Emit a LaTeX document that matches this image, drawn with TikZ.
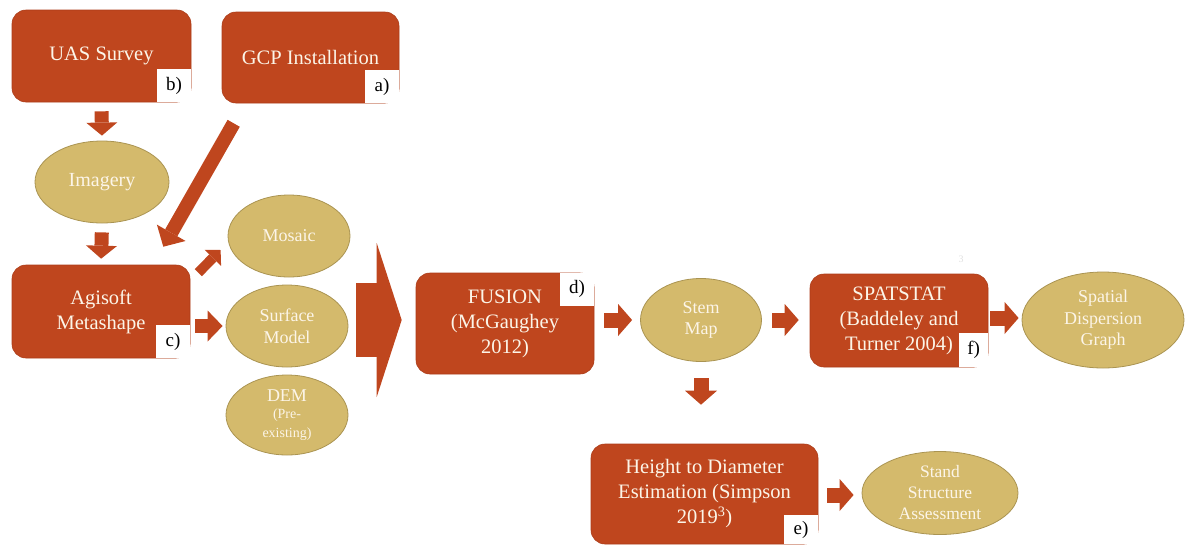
\documentclass[tikz,border=0pt]{standalone}
\usepackage{fontspec}
\setmainfont{Liberation Serif}
\usetikzlibrary{arrows.meta,shapes.geometric,calc}
\definecolor{boxred}{RGB}{191,70,30}
\definecolor{boxedge}{RGB}{172,60,25}
\definecolor{tanfill}{RGB}{212,186,108}
\definecolor{tanedge}{RGB}{170,148,82}
\definecolor{cream}{RGB}{252,245,232}
\begin{document}
\begin{tikzpicture}[x=1pt,y=-1pt,
 redbox/.style={draw=boxedge, line width=0.6pt, fill=boxred, rounded corners=14pt, text=cream, align=center, inner sep=0pt, font=\fontsize{20.5}{25}\selectfont},
 oval/.style={ellipse, draw=tanedge, line width=0.8pt, fill=tanfill, text=cream, align=center, inner sep=0pt, font=\fontsize{18}{21.5}\selectfont},
 lbl/.style={fill=white, text=black, minimum width=34pt, minimum height=33pt, inner sep=0pt, font=\fontsize{19}{20}\selectfont},
 blk/.style args={#1/#2/#3}{draw=boxred, line width=#1, -{Triangle[width=#2,length=#3,line width=0pt]}},
]
\useasboundingbox (0,0) rectangle (1186,544);

% boxes
\node[redbox, minimum width=179pt, minimum height=92pt] (uas) at (101.5,56) {UAS Survey};
\node[redbox, minimum width=177pt, minimum height=91pt] (gcp) at (310.5,57.5) {GCP Installation};
\node[redbox, minimum width=178pt, minimum height=93pt] (agi) at (101,311.5) {Agisoft\\Metashape};
\node[redbox, minimum width=178pt, minimum height=101pt] (fus) at (505,323.5) {FUSION\\(McGaughey\\2012)};
\node[redbox, minimum width=178pt, minimum height=93pt] (spa) at (899,320.5) {SPATSTAT\\(Baddeley and\\Turner 2004)};
\node[redbox, minimum width=227pt, minimum height=100pt] (hgt) at (704.5,494) {Height to Diameter\\Estimation (Simpson\\2019\textsuperscript{3})};

% labels
\node[lbl, anchor=south east] (lb) at (uas.south east) {b)};
\node[lbl, anchor=south east] (la) at (gcp.south east) {a)};
\node[lbl, anchor=south east] (lc) at (agi.south east) {c)};
\node[lbl, anchor=north east] (ld) at (fus.north east) {d)};
\node[lbl, anchor=south east, minimum width=29pt, minimum height=34pt] (lf) at (spa.south east) {f)};
\node[lbl, anchor=south east, minimum height=29pt] (le) at (hgt.south east) {e)};

% ellipses
\node[oval, minimum width=134pt, minimum height=82pt, font=\fontsize{20}{24}\selectfont] (img) at (102,182) {Imagery};
\node[oval, minimum width=122pt, minimum height=82pt] (mos) at (289,236) {Mosaic};
\node[oval, minimum width=122pt, minimum height=82pt] (srf) at (287,326) {Surface\\Model};
\node[oval, minimum width=122pt, minimum height=80pt] (dem) at (287,415) {DEM\\[-4pt]{\fontsize{14}{15}\selectfont (Pre-}\\[-3pt]{\fontsize{14}{15}\selectfont existing)}};
\node[oval, minimum width=121pt, minimum height=83pt] (stm) at (701,320) {Stem\\Map};
\node[oval, minimum width=162pt, minimum height=96pt] (sdg) at (1103,320) {Spatial\\Dispersion\\Graph};
\node[oval, minimum width=156pt, minimum height=83pt, font=\fontsize{17.5}{21}\selectfont] (ssa) at (940,493) {Stand\\Structure\\Assessment};

\node[text=black!12, font=\fontsize{10}{10}\selectfont] (f3) at (961,259) {3};

% arrows
\draw[blk=14pt/31pt/13pt, shorten <=9pt, shorten >=5pt] (uas.south) -- (img.north);
\draw[blk=14pt/31pt/13pt, shorten <=9pt, shorten >=6pt] (img.south) -- (agi.north);
\draw[blk=14pt/33pt/16pt] ($(gcp.south west)+(12,20)$) -- ($(agi.north east)+(-27,-18)$);
\draw[blk=10pt/23pt/11pt] ($(agi.north east)+(8,8)$) -- ($(mos.west)+(-7,14)$);
\draw[blk=14pt/31pt/15pt, shorten <=5pt, shorten >=3pt] (agi.east |- srf.west) -- (srf.west);
\draw[blk=74pt/154pt/25pt] ($(srf.east)+(8,-6)$) -- ($(fus.west)+(-14,-3.5)$);
\draw[blk=15pt/32pt/14pt] ($(fus.east)+(10,-3.5)$) -- ($(stm.west)+(-8,0)$);
\draw[blk=15pt/32pt/14pt] ($(stm.east)+(10.5,0)$) -- ($(spa.west)+(-11,-0.5)$);
\draw[blk=15pt/32pt/14pt] ($(spa.east)+(2,-2.5)$) -- ($(sdg.west)+(-3,-2)$);
\draw[blk=15pt/32pt/14pt, shorten <=16.5pt, shorten >=39pt] (stm.south) -- (stm.south |- hgt.north);
\draw[blk=15pt/32pt/14pt] ($(hgt.east)+(9,1)$) -- ($(ssa.west)+(-8,2)$);
\end{tikzpicture}
\end{document}
